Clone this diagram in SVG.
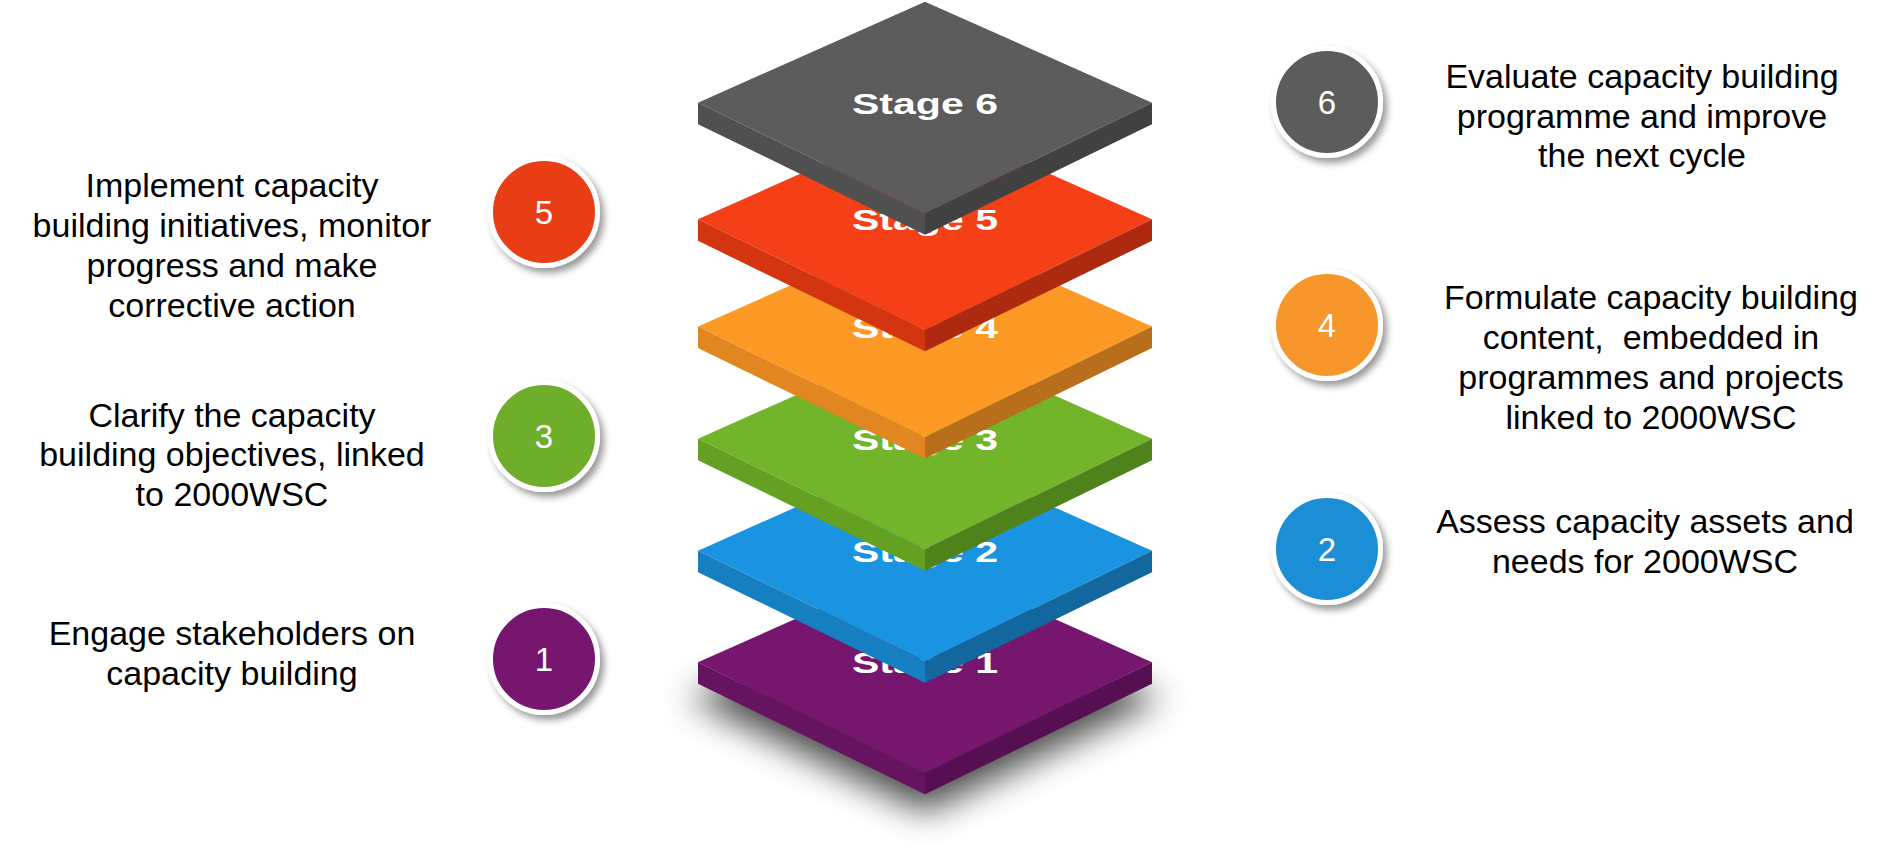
<svg xmlns="http://www.w3.org/2000/svg" xmlns:xlink="http://www.w3.org/1999/xlink" width="1894" height="850" viewBox="0 0 1894 850">
<style>
.stage{font-family:"Liberation Sans",Arial,sans-serif;font-weight:bold;font-size:29px;fill:#ffffff;text-anchor:middle}
.desc{font-family:"Liberation Sans",Arial,sans-serif;font-size:34px;fill:#000000;text-anchor:middle}
.num{font-family:"Liberation Sans",Arial,sans-serif;font-size:33px;fill:#ffffff;text-anchor:middle}
.badge{stroke:#ffffff;stroke-width:5;filter:url(#dropShadow)}
</style>
<defs>
<polygon id="slabTop" points="925,-101 1152,0 925,110.5 698,0"/>
<polygon id="slabLeft" points="698,0 925,110.5 925,132 698,21.5"/>
<polygon id="slabRight" points="925,110.5 1152,0 1152,21.5 925,132"/>
<filter id="dropShadow" x="-30%" y="-30%" width="160%" height="160%">
<feDropShadow dx="4" dy="5" stdDeviation="3.5" flood-color="#000000" flood-opacity="0.4"/>
</filter>
<filter id="baseBlur" x="-30%" y="-60%" width="160%" height="220%">
<feGaussianBlur stdDeviation="17"/>
</filter>
</defs>

<g id="base-shadow">
<polygon points="688,698 925,605 1162,698 925,812" fill="#000000" opacity="0.7" filter="url(#baseBlur)"/>
</g>

<g id="stage1">
<use href="#slabTop" y="662.3" fill="#76166f"/>
<use href="#slabLeft" y="662.3" fill="#661360"/>
<use href="#slabRight" y="662.3" fill="#560f51"/>
<text class="stage" x="925" y="673.3" textLength="146" lengthAdjust="spacingAndGlyphs">Stage 1</text>
</g>
<g id="stage2">
<use href="#slabTop" y="550.7" fill="#1a94e0"/>
<use href="#slabLeft" y="550.7" fill="#167fc1"/>
<use href="#slabRight" y="550.7" fill="#11679e"/>
<text class="stage" x="925" y="561.7" textLength="146" lengthAdjust="spacingAndGlyphs">Stage 2</text>
</g>
<g id="stage3">
<use href="#slabTop" y="438.7" fill="#72b52a"/>
<use href="#slabLeft" y="438.7" fill="#64a123"/>
<use href="#slabRight" y="438.7" fill="#50821c"/>
<text class="stage" x="925" y="449.7" textLength="146" lengthAdjust="spacingAndGlyphs">Stage 3</text>
</g>
<g id="stage4">
<use href="#slabTop" y="326.5" fill="#fd9a26"/>
<use href="#slabLeft" y="326.5" fill="#e18620"/>
<use href="#slabRight" y="326.5" fill="#b96e1b"/>
<text class="stage" x="925" y="337.5" textLength="146" lengthAdjust="spacingAndGlyphs">Stage 4</text>
</g>
<g id="stage5">
<use href="#slabTop" y="219.3" fill="#f43f17"/>
<use href="#slabLeft" y="219.3" fill="#d43511"/>
<use href="#slabRight" y="219.3" fill="#ad2a10"/>
<text class="stage" x="925" y="230.3" textLength="146" lengthAdjust="spacingAndGlyphs">Stage 5</text>
</g>
<g id="stage6">
<use href="#slabTop" y="102.7" fill="#5c5c5c"/>
<use href="#slabLeft" y="102.7" fill="#505050"/>
<use href="#slabRight" y="102.7" fill="#414141"/>
<text class="stage" x="925" y="113.7" textLength="146" lengthAdjust="spacingAndGlyphs">Stage 6</text>
</g>

<g id="step1">
<circle class="badge" cx="544" cy="659" r="53.5" fill="#76176e"/>
<text class="num" x="544" y="671">1</text>
<text class="desc" x="232" y="645">Engage stakeholders on</text>
<text class="desc" x="232" y="685">capacity building</text>
</g>
<g id="step2">
<circle class="badge" cx="1327" cy="549" r="53.5" fill="#1b8ed6"/>
<text class="num" x="1327" y="561">2</text>
<text class="desc" x="1645" y="532.7">Assess capacity assets and</text>
<text class="desc" x="1645" y="572.7">needs for 2000WSC</text>
</g>
<g id="step3">
<circle class="badge" cx="544" cy="436" r="53.5" fill="#6eae2b"/>
<text class="num" x="544" y="448">3</text>
<text class="desc" x="232" y="426.7">Clarify the capacity</text>
<text class="desc" x="232" y="466.3">building objectives, linked</text>
<text class="desc" x="232" y="506">to 2000WSC</text>
</g>
<g id="step4">
<circle class="badge" cx="1327" cy="325" r="53.5" fill="#f7962a"/>
<text class="num" x="1327" y="337">4</text>
<text class="desc" x="1651" y="309.3">Formulate capacity building</text>
<text class="desc" x="1651" y="349.3" xml:space="preserve">content,  embedded in</text>
<text class="desc" x="1651" y="389.3">programmes and projects</text>
<text class="desc" x="1651" y="429.3">linked to 2000WSC</text>
</g>
<g id="step5">
<circle class="badge" cx="544" cy="212" r="53.5" fill="#e93e17"/>
<text class="num" x="544" y="224">5</text>
<text class="desc" x="232" y="197.3">Implement capacity</text>
<text class="desc" x="232" y="237.3">building initiatives, monitor</text>
<text class="desc" x="232" y="277.3">progress and make</text>
<text class="desc" x="232" y="317.3">corrective action</text>
</g>
<g id="step6">
<circle class="badge" cx="1327" cy="102" r="53.5" fill="#5c5c5c"/>
<text class="num" x="1327" y="114">6</text>
<text class="desc" x="1642" y="88.3">Evaluate capacity building</text>
<text class="desc" x="1642" y="127.7">programme and improve</text>
<text class="desc" x="1642" y="167.3">the next cycle</text>
</g>
</svg>
